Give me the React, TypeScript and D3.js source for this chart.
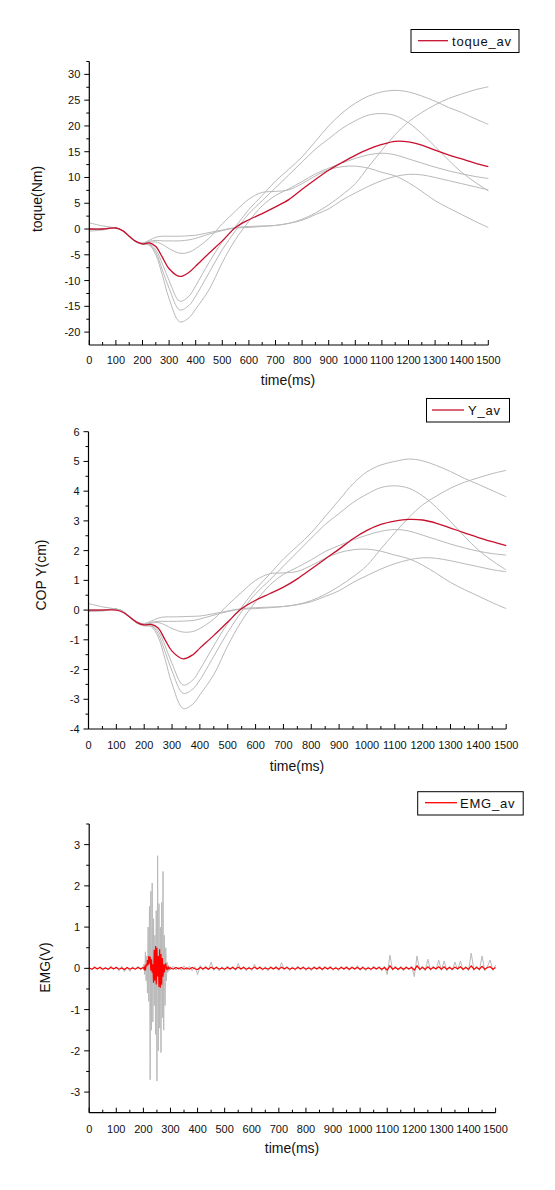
import React from 'react';
import * as d3 from 'd3';

// ---------- DATA ----------
const TIME = [0, 50, 100, 125, 150, 175, 200, 225, 250, 275, 300, 340, 375, 400, 450, 500, 550, 600, 650, 700, 750, 800, 850, 900, 950, 1000, 1050, 1100, 1150, 1200, 1250, 1300, 1350, 1400, 1450, 1500];

const torqueA = [0, 0, 0.2, -0.3, -1.4, -2.4, -2.9, -2.9, -4.0, -6.8, -10.0, -14.0, -13.0, -11.0, -6.5, -2.5, 0.5, 3.8, 6.5, 9.3, 11.6, 14.0, 17.0, 20.0, 22.5, 24.4, 25.8, 26.6, 26.9, 26.6, 25.8, 24.8, 23.6, 22.6, 21.4, 20.3];
const torqueB = [-0.4, -0.2, 0.2, -0.3, -1.4, -2.4, -2.9, -3.0, -4.5, -8.0, -11.5, -15.7, -14.8, -13.0, -8.5, -4.0, -0.3, 3.0, 5.5, 8.0, 10.5, 13.0, 15.5, 17.5, 19.5, 21.0, 22.1, 22.4, 22.0, 20.6, 18.5, 16.0, 13.4, 11.0, 9.1, 7.4];
const torqueC = [0, 0, 0.2, -0.3, -1.4, -2.4, -2.8, -2.4, -2.2, -2.3, -2.3, -2.3, -2.1, -1.8, -1.0, -0.3, 0.2, 0.3, 0.5, 0.7, 1.1, 1.9, 3.1, 4.7, 6.6, 8.8, 12.1, 15.3, 18.3, 20.8, 22.6, 24.1, 25.3, 26.2, 27.0, 27.6];
const torqueD = [1.2, 0.6, 0.2, -0.3, -1.5, -2.5, -3.0, -3.1, -5.0, -9.0, -13.5, -18.0, -17.2, -15.5, -11.8, -6.5, -2.0, 1.5, 4.5, 6.5, 7.8, 9.2, 10.7, 11.8, 12.8, 13.7, 14.4, 14.7, 14.4, 13.6, 12.8, 12.0, 11.3, 10.7, 10.2, 9.8];
const torqueE = [0, 0, 0.2, -0.3, -1.4, -2.4, -2.8, -2.6, -2.5, -3.0, -3.8, -4.7, -4.5, -3.8, -1.8, 1.0, 3.5, 5.8, 7.1, 7.3, 7.6, 8.8, 10.3, 11.5, 12.1, 12.2, 11.8, 11.0, 10.3, 9.0, 7.3, 5.5, 4.1, 2.8, 1.5, 0.3];
const torqueF = [0, 0, 0.2, -0.3, -1.4, -2.4, -2.7, -2.2, -1.6, -1.4, -1.4, -1.4, -1.3, -1.2, -0.7, -0.2, 0.3, 0.5, 0.6, 0.7, 1.1, 1.7, 2.8, 3.9, 5.6, 7.0, 8.3, 9.4, 10.2, 10.6, 10.5, 10.0, 9.4, 8.8, 8.2, 7.6];
const torqueAv = [0, 0, 0.2, -0.3, -1.4, -2.4, -2.9, -2.7, -3.4, -5.5, -7.7, -9.2, -8.4, -7.2, -4.7, -2.3, 0.3, 1.8, 3.0, 4.3, 5.7, 7.7, 9.6, 11.4, 12.9, 14.3, 15.5, 16.4, 17.0, 16.9, 16.3, 15.3, 14.4, 13.6, 12.8, 12.1];

const copA = [0, 0, 0.03, -0.05, -0.25, -0.42, -0.5, -0.5, -0.7, -1.2, -1.8, -2.52, -2.35, -2.0, -1.2, -0.45, 0.1, 0.7, 1.2, 1.72, 2.15, 2.6, 3.15, 3.7, 4.25, 4.65, 4.88, 5.0, 5.08, 5.02, 4.86, 4.66, 4.43, 4.23, 4.02, 3.81];
const copB = [-0.05, -0.03, 0.03, -0.05, -0.25, -0.42, -0.5, -0.52, -0.8, -1.4, -2.05, -2.8, -2.65, -2.35, -1.55, -0.75, -0.05, 0.55, 1.0, 1.48, 1.95, 2.42, 2.88, 3.25, 3.62, 3.9, 4.12, 4.18, 4.1, 3.84, 3.45, 2.98, 2.48, 2.02, 1.66, 1.35];
const copC = [0, 0, 0.03, -0.05, -0.24, -0.41, -0.48, -0.41, -0.38, -0.38, -0.38, -0.37, -0.35, -0.3, -0.17, -0.05, 0.03, 0.05, 0.08, 0.12, 0.19, 0.32, 0.53, 0.8, 1.12, 1.5, 2.06, 2.6, 3.11, 3.54, 3.84, 4.1, 4.3, 4.45, 4.59, 4.7];
const copD = [0.22, 0.11, 0.03, -0.05, -0.27, -0.45, -0.53, -0.56, -0.9, -1.65, -2.48, -3.31, -3.16, -2.85, -2.17, -1.2, -0.37, 0.28, 0.83, 1.2, 1.44, 1.69, 1.97, 2.17, 2.36, 2.52, 2.65, 2.71, 2.66, 2.52, 2.37, 2.22, 2.09, 1.98, 1.9, 1.85];
const copE = [0, 0, 0.03, -0.05, -0.24, -0.4, -0.47, -0.44, -0.42, -0.5, -0.62, -0.74, -0.72, -0.62, -0.3, 0.17, 0.6, 1.0, 1.22, 1.25, 1.3, 1.5, 1.74, 1.93, 2.03, 2.05, 1.98, 1.85, 1.73, 1.51, 1.23, 0.93, 0.69, 0.47, 0.25, 0.05];
const copF = [0, 0, 0.03, -0.05, -0.23, -0.4, -0.45, -0.37, -0.27, -0.23, -0.23, -0.22, -0.21, -0.2, -0.12, -0.03, 0.05, 0.08, 0.1, 0.12, 0.18, 0.28, 0.46, 0.65, 0.93, 1.16, 1.38, 1.56, 1.69, 1.76, 1.74, 1.66, 1.56, 1.46, 1.36, 1.29];
const copAv = [0, 0, 0.0, -0.08, -0.25, -0.42, -0.5, -0.48, -0.6, -1.0, -1.38, -1.64, -1.5, -1.28, -0.85, -0.4, 0.05, 0.33, 0.55, 0.77, 1.05, 1.38, 1.72, 2.05, 2.4, 2.68, 2.88, 2.99, 3.05, 3.03, 2.92, 2.76, 2.6, 2.44, 2.3, 2.17];

// EMG: segments sampled every 10 ms (0-190), 2.5 ms (200-297.5), 10 ms (300-1500)
const emgGrayPre = [0.03, -0.04, 0.05, -0.03, 0.04, -0.05, 0.03, -0.04, 0.06, -0.03, 0.04, -0.06, 0.05, -0.08, 0.03, -0.07, 0.04, -0.03, 0.05, -0.04];
const emgGrayBurst = [0.06, 0.1, -0.15, 0.4, -0.3, 0.3, -0.6, 1.0, -0.8, 1.5, -2.7, 1.87, -1.5, 2.07, -1.3, 1.2, -0.9, 0.8, -1.6, 1.4, -2.73, 2.73, -2.0, 1.57, -1.45, 1.0, -2.04, 1.6, -1.2, 2.35, -1.5, 0.8, -0.9, 0.5, -0.3, 0.15, -0.1, 0.08, -0.06, 0.05];
const emgGrayPost = [
  -0.04, 0.05, -0.04, 0.03, -0.05, 0.06, -0.04, 0.05, -0.06, 0.04,
  -0.15, 0.07, -0.05, 0.06, -0.04, 0.15, -0.05, 0.05, -0.06, 0.04,
  -0.05, 0.06, -0.04, 0.05, -0.05, 0.12, -0.04, 0.05, -0.06, 0.04,
  -0.05, 0.1, -0.04, 0.05, -0.05, 0.04, -0.06, 0.05, -0.04, 0.06,
  -0.05, 0.14, -0.04, 0.05, -0.06, 0.04, -0.05, 0.06, -0.04, 0.05,
  -0.05, 0.04, -0.06, 0.05, -0.04, 0.06, -0.05, 0.05, -0.04, 0.06,
  -0.05, 0.04, -0.06, 0.05, -0.04, 0.06, -0.05, 0.05, -0.04, 0.07,
  -0.05, 0.05, -0.06, 0.04, -0.05, 0.06, -0.04, 0.05, -0.06, 0.05,
  -0.15, 0.32, -0.05, 0.06, -0.05, 0.05, -0.06, 0.05, -0.04, 0.06,
  -0.2, 0.3, -0.05, 0.06, -0.06, 0.22, -0.05, 0.06, -0.04, 0.2,
  -0.05, 0.18, -0.06, 0.05, -0.05, 0.15, -0.04, 0.18, -0.05, 0.05,
  -0.06, 0.37, -0.05, 0.06, -0.05, 0.3, -0.06, 0.05, 0.2, -0.05,
  0.08];
const emgRedPre = [0.01, -0.02, 0.02, -0.01, 0.02, -0.02, 0.01, -0.02, 0.02, -0.01, 0.02, -0.02, 0.01, -0.03, 0.02, -0.02, 0.01, -0.02, 0.02, -0.01];
const emgRedBurst = [0.02, -0.02, 0.03, -0.05, 0.1, 0.05, 0.2, 0.08, 0.3, 0.12, 0.28, -0.05, 0.22, -0.1, 0.1, -0.35, 0.45, -0.3, 0.54, -0.39, 0.5, -0.2, 0.3, -0.45, 0.46, -0.47, 0.35, -0.4, 0.25, -0.2, 0.1, -0.1, 0.08, 0.12, -0.03, 0.02, -0.02, 0.02, -0.01, 0.01];
const emgRedPost = [
  0.01, -0.02, 0.02, -0.01, 0.02, -0.02, 0.01, -0.02, 0.02, -0.01,
  -0.03, 0.02, -0.01, 0.02, -0.02, 0.03, -0.01, 0.02, -0.02, 0.01,
  -0.02, 0.02, -0.01, 0.02, -0.02, 0.03, -0.01, 0.02, -0.02, 0.01,
  -0.02, 0.03, -0.01, 0.02, -0.02, 0.01, -0.02, 0.02, -0.01, 0.02,
  -0.02, 0.03, -0.01, 0.02, -0.02, 0.01, -0.02, 0.02, -0.01, 0.02,
  -0.02, 0.01, -0.02, 0.02, -0.01, 0.02, -0.02, 0.02, -0.01, 0.02,
  -0.02, 0.01, -0.02, 0.02, -0.01, 0.02, -0.02, 0.02, -0.01, 0.02,
  -0.02, 0.02, -0.02, 0.01, -0.02, 0.02, -0.01, 0.02, -0.02, 0.02,
  -0.04, 0.06, -0.02, 0.02, -0.02, 0.02, -0.02, 0.02, -0.01, 0.02,
  -0.04, 0.06, -0.02, 0.02, -0.02, 0.04, -0.02, 0.02, -0.01, 0.04,
  -0.02, 0.04, -0.02, 0.02, -0.02, 0.03, -0.01, 0.04, -0.02, 0.02,
  -0.02, 0.06, -0.02, 0.02, -0.02, 0.05, -0.02, 0.02, 0.04, -0.02,
  0.02];

const xTickValues = [0, 100, 200, 300, 400, 500, 600, 700, 800, 900, 1000, 1100, 1200, 1300, 1400, 1500];
const xMinorValues = [50, 150, 250, 350, 450, 550, 650, 750, 850, 950, 1050, 1150, 1250, 1350, 1450];
const torqueTicks = [-20, -15, -10, -5, 0, 5, 10, 15, 20, 25, 30];
const torqueMinor = [-17.5, -12.5, -7.5, -2.5, 2.5, 7.5, 12.5, 17.5, 22.5, 27.5, 32.5];
const copTicks = [-4, -3, -2, -1, 0, 1, 2, 3, 4, 5, 6];
const copMinor = [-3.5, -2.5, -1.5, -0.5, 0.5, 1.5, 2.5, 3.5, 4.5, 5.5];
const emgTicks = [-3, -2, -1, 0, 1, 2, 3];
const emgMinor = [-2.5, -1.5, -0.5, 0.5, 1.5, 2.5, 3.5];

// ---------- helpers ----------
type Pt = [number, number];
const zipT = (vals: number[]): Pt[] => vals.map((v, i) => [TIME[i], v] as Pt);
const seg = (start: number, step: number, vals: number[]): Pt[] => vals.map((v, i) => [start + i * step, v] as Pt);

const FONT = '"Liberation Sans", Arial, sans-serif';
const GRAY = '#b9b9b9';

type PanelProps = {
  x0: number; x1: number; yTop: number; yBottom: number;
  domain: [number, number];
  ticks: number[]; minor: number[];
  grays: Pt[][]; avg: Pt[]; smooth: boolean;
  avgColor: string; avgWidth: number;
  yLabel: string; yLabelX: number; yLabelY: number;
  xLabelX: number; xLabelY: number; tickLabelY: number;
  legend: { x: number; y: number; w: number; h: number; text: string; lx1: number; lx2: number; ly: number; tx: number; ty: number; color: string };
};

function Panel(p: PanelProps) {
  const xs = d3.scaleLinear().domain([0, 1500]).range([p.x0, p.x1]);
  const ys = d3.scaleLinear().domain(p.domain).range([p.yBottom, p.yTop]);
  const line = d3.line<Pt>().x(d => xs(d[0])).y(d => ys(d[1]))
    .curve(p.smooth ? d3.curveCatmullRom.alpha(0.5) : d3.curveLinear);
  const L = p.legend;
  return (
    <g>
      {p.grays.map((g, i) => (
        <path key={i} d={line(g) || ''} fill="none" stroke={GRAY} strokeWidth={1} />
      ))}
      <path d={line(p.avg) || ''} fill="none" stroke={p.avgColor} strokeWidth={p.avgWidth} />
      <line x1={p.x0} x2={p.x0} y1={p.yTop} y2={p.yBottom} stroke="#000" strokeWidth={1.2} />
      <line x1={p.x0} x2={p.x1} y1={p.yBottom} y2={p.yBottom} stroke="#000" strokeWidth={1.2} />
      {p.ticks.map(t => (
        <g key={'yt' + t}>
          <line x1={p.x0 - 5} x2={p.x0} y1={ys(t)} y2={ys(t)} stroke="#000" />
          <text x={p.x0 - 9} y={ys(t) + 4} textAnchor="end" fontFamily={FONT} fontSize={11} fill="#111">{t}</text>
        </g>
      ))}
      {p.minor.map(t => (
        <line key={'ym' + t} x1={p.x0 - 3} x2={p.x0} y1={ys(t)} y2={ys(t)} stroke="#000" />
      ))}
      {xTickValues.map(t => (
        <g key={'xt' + t}>
          <line x1={xs(t)} x2={xs(t)} y1={p.yBottom} y2={p.yBottom - 5} stroke="#000" />
          <text x={xs(t)} y={p.tickLabelY} textAnchor="middle" fontFamily={FONT} fontSize={11} fill="#111">{t}</text>
        </g>
      ))}
      {xMinorValues.map(t => (
        <line key={'xm' + t} x1={xs(t)} x2={xs(t)} y1={p.yBottom} y2={p.yBottom - 3} stroke="#000" />
      ))}
      <text x={p.xLabelX} y={p.xLabelY} textAnchor="middle" fontFamily={FONT} fontSize={14} fill="#111">time(ms)</text>
      <text transform={`translate(${p.yLabelX},${p.yLabelY}) rotate(-90)`} textAnchor="middle" fontFamily={FONT} fontSize={14} fill="#111">{p.yLabel}</text>
      <rect x={L.x} y={L.y} width={L.w} height={L.h} fill="#fff" stroke="#000" strokeWidth={1} />
      <line x1={L.lx1} x2={L.lx2} y1={L.ly} y2={L.ly} stroke={L.color} strokeWidth={1.3} />
      <text x={L.tx} y={L.ty} fontFamily={FONT} fontSize={13} letterSpacing={0.8} fill="#111">{L.text}</text>
    </g>
  );
}

export default function App() {
  const torqueGrays = [torqueA, torqueB, torqueC, torqueD, torqueE, torqueF].map(zipT);
  const copGrays = [copA, copB, copC, copD, copE, copF].map(zipT);
  const emgGray = [...seg(0, 10, emgGrayPre), ...seg(200, 2.5, emgGrayBurst), ...seg(300, 10, emgGrayPost)];
  const emgRed = [...seg(0, 10, emgRedPre), ...seg(200, 2.5, emgRedBurst), ...seg(300, 10, emgRedPost)];
  return (
    <svg width={555} height={1190} style={{ position: 'absolute', left: 0, top: 0, background: '#fff' }}>
      <rect x={0} y={0} width={555} height={1190} fill="#fff" />
      <Panel
        x0={89.3} x1={488.3} yTop={61.5} yBottom={345} domain={[-22.5, 32.5]}
        ticks={torqueTicks} minor={torqueMinor}
        grays={torqueGrays} avg={zipT(torqueAv)} smooth avgColor="#c8102e" avgWidth={1.3}
        yLabel="toque(Nm)" yLabelX={42} yLabelY={199}
        xLabelX={288} xLabelY={385} tickLabelY={364}
        legend={{ x: 411, y: 29.5, w: 108, h: 23, text: 'toque_av', lx1: 418, lx2: 448, ly: 40.7, tx: 452, ty: 45.5, color: '#c8102e' }}
      />
      <Panel
        x0={88.5} x1={506.2} yTop={431.7} yBottom={729} domain={[-4, 6]}
        ticks={copTicks} minor={copMinor}
        grays={copGrays} avg={zipT(copAv)} smooth avgColor="#c8102e" avgWidth={1.3}
        yLabel="COP Y(cm)" yLabelX={45.5} yLabelY={575}
        xLabelX={297} xLabelY={771} tickLabelY={748.5}
        legend={{ x: 426.5, y: 398.5, w: 83, h: 23.5, text: 'Y_av', lx1: 432, lx2: 464, ly: 410, tx: 468, ty: 414.5, color: '#c8102e' }}
      />
      <Panel
        x0={89.2} x1={495.6} yTop={824} yBottom={1112.7} domain={[-3.5, 3.5]}
        ticks={emgTicks} minor={emgMinor}
        grays={[emgGray]} avg={emgRed} smooth={false} avgColor="#ff0000" avgWidth={1.2}
        yLabel="EMG(V)" yLabelX={49.5} yLabelY={967.5}
        xLabelX={292} xLabelY={1153} tickLabelY={1133}
        legend={{ x: 417.7, y: 791.7, w: 105.5, h: 23.3, text: 'EMG_av', lx1: 425, lx2: 457, ly: 802.7, tx: 460, ty: 807.5, color: '#ff0000' }}
      />
    </svg>
  );
}
